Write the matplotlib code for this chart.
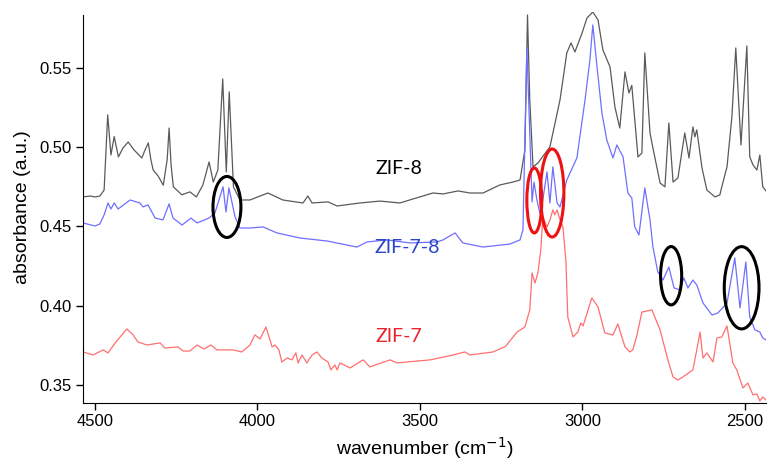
import matplotlib.pyplot as plt
from matplotlib.patches import Ellipse

# ZIF-8 (grey)
zif8_wn = [4537, 4515, 4500, 4485, 4472, 4461, 4451, 4441, 4428, 4414, 4398, 4380,
           4356, 4346, 4336, 4328, 4321, 4306, 4290, 4278, 4272, 4266, 4259, 4233,
           4208, 4188, 4168, 4149, 4136, 4122, 4107, 4096, 4087, 4074, 4054, 4023,
           3968, 3922, 3860, 3845, 3832, 3783, 3755, 3685, 3623, 3562, 3522, 3460,
           3429, 3383, 3346, 3306, 3254, 3214, 3192, 3177, 3169, 3162, 3152, 3137,
           3100, 3069, 3048, 3035, 3023, 3001, 2986, 2968, 2952, 2937, 2915, 2900,
           2885, 2869, 2857, 2848, 2829, 2817, 2808, 2792, 2783, 2761, 2746, 2734,
           2721, 2706, 2685, 2672, 2660, 2654, 2648, 2632, 2617, 2592, 2577, 2571,
           2555, 2540, 2528, 2512, 2494, 2485, 2475, 2463, 2454, 2445, 2435]
zif8_abs = [0.4686, 0.4692, 0.4686, 0.4692, 0.4730, 0.5204, 0.4951, 0.5067, 0.4939, 0.4995, 0.5033, 0.4983,
            0.4932, 0.4983, 0.5027, 0.4920, 0.4856, 0.4819, 0.4760, 0.4920, 0.5121, 0.4888, 0.4750, 0.4700,
            0.4718, 0.4686, 0.4762, 0.4907, 0.4780, 0.4856, 0.5431, 0.4844, 0.5349, 0.4750, 0.4667, 0.4667,
            0.4711, 0.4667, 0.4648, 0.4692, 0.4648, 0.4655, 0.4629, 0.4648, 0.4660, 0.4648, 0.4673, 0.4711,
            0.4705, 0.4724, 0.4711, 0.4711, 0.4762, 0.4780, 0.4793, 0.4983, 0.5834, 0.5298, 0.4876, 0.4900,
            0.5002, 0.5298, 0.5595, 0.5658, 0.5601, 0.5721, 0.5815, 0.5853, 0.5803, 0.5614, 0.5506, 0.5254,
            0.5121, 0.5475, 0.5342, 0.5390, 0.4938, 0.4963, 0.5595, 0.5090, 0.4995, 0.4774, 0.4750, 0.5153,
            0.4780, 0.4806, 0.5090, 0.4932, 0.5128, 0.5065, 0.5109, 0.4869, 0.4730, 0.4686, 0.4699, 0.4750,
            0.4876, 0.5191, 0.5626, 0.5014, 0.5639, 0.4939, 0.4888, 0.4856, 0.4951, 0.4750, 0.4724]

# ZIF-7-8 (blue)
zif78_wn = [4537, 4500, 4485, 4472, 4460, 4451, 4441, 4429, 4392, 4362, 4352, 4337,
            4315, 4291, 4272, 4260, 4232, 4205, 4186, 4149, 4131, 4106, 4097, 4088,
            4069, 4054, 4023, 3983, 3940, 3869, 3786, 3694, 3663, 3602, 3531, 3448,
            3429, 3392, 3368, 3306, 3223, 3192, 3183, 3171, 3162, 3155, 3149, 3140,
            3131, 3122, 3109, 3100, 3091, 3078, 3069, 3048, 3017, 2992, 2977, 2968,
            2955, 2940, 2925, 2906, 2894, 2875, 2860, 2848, 2839, 2826, 2808, 2792,
            2783, 2768, 2752, 2734, 2718, 2700, 2688, 2675, 2660, 2648, 2629, 2601,
            2583, 2555, 2531, 2515, 2497, 2485, 2469, 2454, 2445, 2435]
zif78_abs = [0.4522, 0.4503, 0.4516, 0.4573, 0.4648, 0.4610, 0.4648, 0.4610, 0.4667, 0.4648, 0.4623, 0.4636,
             0.4553, 0.4541, 0.4642, 0.4553, 0.4509, 0.4553, 0.4522, 0.4553, 0.4585, 0.4750, 0.4591, 0.4743,
             0.4560, 0.4490, 0.4490, 0.4497, 0.4459, 0.4427, 0.4408, 0.4370, 0.4402, 0.4415, 0.4396, 0.4402,
             0.4415, 0.4459, 0.4396, 0.4370, 0.4389, 0.4415, 0.4478, 0.5626, 0.5090, 0.4655, 0.4780, 0.4667,
             0.4585, 0.4667, 0.4844, 0.4648, 0.4876, 0.4648, 0.4623, 0.4793, 0.4932, 0.5298, 0.5550, 0.5771,
             0.5506, 0.5216, 0.5046, 0.4932, 0.5014, 0.4939, 0.4710, 0.4680, 0.4497, 0.4446, 0.4743, 0.4541,
             0.4370, 0.4213, 0.4162, 0.4244, 0.4112, 0.4100, 0.4175, 0.4112, 0.4162, 0.4131, 0.4017, 0.3941,
             0.3954, 0.4017, 0.4301, 0.3986, 0.4276, 0.3929, 0.3847, 0.3834, 0.3796, 0.3784]

# ZIF-7 (red)
zif7_wn = [4537, 4506, 4475, 4460, 4438, 4402, 4383, 4368, 4340, 4300, 4285, 4245,
           4229, 4208, 4186, 4165, 4143, 4125, 4075, 4048, 4023, 4008, 3992, 3974,
           3955, 3946, 3934, 3925, 3909, 3894, 3882, 3875, 3863, 3848, 3832, 3817,
           3802, 3783, 3774, 3762, 3755, 3746, 3715, 3675, 3654, 3592, 3571, 3469,
           3398, 3362, 3346, 3275, 3248, 3238, 3201, 3177, 3162, 3155, 3146, 3137,
           3128, 3122, 3109, 3100, 3091, 3085, 3078, 3072, 3060, 3051, 3045, 3029,
           3014, 3005, 2998, 2971, 2952, 2940, 2931, 2906, 2891, 2869, 2854, 2845,
           2832, 2817, 2786, 2761, 2737, 2721, 2706, 2691, 2660, 2648, 2638, 2629,
           2617, 2598, 2586, 2571, 2555, 2537, 2525, 2506, 2491, 2475, 2463, 2454,
           2445, 2435]
zif7_abs = [0.3708, 0.3689, 0.3721, 0.3702, 0.3765, 0.3853, 0.3816, 0.3771, 0.3752, 0.3765, 0.3733, 0.3740,
            0.3714, 0.3714, 0.3752, 0.3727, 0.3752, 0.3721, 0.3721, 0.3708, 0.3752, 0.3816, 0.3790, 0.3866,
            0.3740, 0.3752, 0.3721, 0.3645, 0.3670, 0.3658, 0.3702, 0.3639, 0.3689, 0.3639, 0.3689, 0.3708,
            0.3670, 0.3645, 0.3595, 0.3626, 0.3595, 0.3639, 0.3607, 0.3658, 0.3614, 0.3658, 0.3639, 0.3658,
            0.3689, 0.3708, 0.3689, 0.3708, 0.3733, 0.3740, 0.3834, 0.3866, 0.3973, 0.4207, 0.4143, 0.4207,
            0.4352, 0.4560, 0.4497, 0.4541, 0.4604, 0.4573, 0.4604, 0.4560, 0.4497, 0.4289, 0.3929, 0.3803,
            0.3834, 0.3891, 0.3872, 0.4049, 0.3992, 0.3898, 0.3828, 0.3815, 0.3885, 0.3740, 0.3708, 0.3721,
            0.3815, 0.3960, 0.3973, 0.3847, 0.3658, 0.3550, 0.3531, 0.3550, 0.3595, 0.3721, 0.3834, 0.3670,
            0.3702, 0.3645, 0.3796, 0.3803, 0.3872, 0.3639, 0.3595, 0.3481, 0.3512, 0.3437, 0.3443, 0.3399,
            0.3424, 0.3405]

# highlighted bands: (centre wn, centre abs, width wn, height abs)
black_marks = [(4094, 0.4623, 86, 0.0385), (2727, 0.4189, 65, 0.0368), (2510, 0.4113, 107, 0.0519)]
red_marks = [(3148, 0.4664, 46, 0.0410), (3093, 0.4711, 72, 0.0555)]

x_ticks = [4500, 4000, 3500, 3000, 2500]
y_ticks = [0.35, 0.40, 0.45, 0.50, 0.55]

plt.rcParams['font.family'] = ['Liberation Sans', 'DejaVu Sans']

fig = plt.figure(figsize=(7.77, 4.69), dpi=100)
ax = fig.add_axes([83 / 777, 1 - 403 / 469, (766 - 83) / 777, (403 - 12) / 469])

ax.plot(zif8_wn, zif8_abs, color='#5a5a5a', lw=0.9)
ax.plot(zif78_wn, zif78_abs, color='#6f6fff', lw=0.9)
ax.plot(zif7_wn, zif7_abs, color='#ff6f6f', lw=0.9)

for cx, cy, w, h in black_marks:
    ax.add_patch(Ellipse((cx, cy), w, h, fill=False, ec='black', lw=2.2, zorder=5))
for cx, cy, w, h in red_marks:
    ax.add_patch(Ellipse((cx, cy), w, h, fill=False, ec='#ee1111', lw=2.2, zorder=5))

lab_font = dict(family=['Lato', 'DejaVu Sans'], fontsize=14, ha='center', va='center')
ax.text(3565, 0.4867, 'ZIF-8', color='black', **lab_font)
ax.text(3540, 0.4370, 'ZIF-7-8', color='#2a45c8', **lab_font)
ax.text(3565, 0.3806, 'ZIF-7', color='#e8232b', **lab_font)

ax.set_xlim(4537, 2435)
ax.set_ylim(0.3386, 0.5853)
ax.set_xticks(x_ticks)
ax.set_yticks(y_ticks)
ax.set_yticklabels([f'{v:.2f}' for v in y_ticks])
ax.tick_params(direction='out', length=5, width=1, labelsize=12, pad=3)

for side in ['top', 'right']:
    ax.spines[side].set_visible(False)
ax.spines['left'].set_bounds(0.3386, 0.5834)

ax.set_xlabel('wavenumber (cm$^{-1}$)', fontsize=14, labelpad=4)
ax.set_ylabel('absorbance (a.u.)', fontsize=14, labelpad=6)

fig.savefig('out.png', dpi=100)
